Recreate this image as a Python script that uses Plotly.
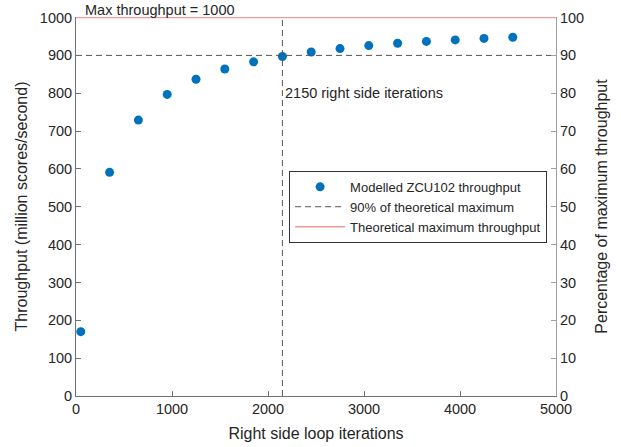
import plotly.graph_objects as go

iterations = [50, 350, 650, 950, 1250, 1550, 1850, 2150, 2450, 2750, 3050, 3350, 3650, 3950, 4250, 4550]
throughput = [170, 591, 729, 797, 837, 864, 883, 897, 909, 918, 926, 932, 937, 941, 945, 948]
max_throughput = 1000
ninety_pct = 900
knee_x = 2150
x_range = [0, 5000]
x_ticks = [0, 1000, 2000, 3000, 4000, 5000]
y_ticks = [0, 100, 200, 300, 400, 500, 600, 700, 800, 900, 1000]
y2_ticks = [0, 10, 20, 30, 40, 50, 60, 70, 80, 90, 100]

FONT = "Liberation Sans, Arial, sans-serif"
TXT = "#262626"
DASH = "6px,4px"

fig = go.Figure()

fig.add_trace(go.Scatter(x=iterations, y=throughput, mode="markers",
                         marker=dict(color="#0072BD", size=9),
                         name="Modelled ZCU102 throughput"))
fig.add_trace(go.Scatter(x=x_range, y=[ninety_pct, ninety_pct], mode="lines",
                         line=dict(color="#555555", width=1, dash=DASH),
                         name="90% of theoretical maximum"))
fig.add_trace(go.Scatter(x=x_range, y=[max_throughput, max_throughput], mode="lines",
                         line=dict(color="#F29A9A", width=1.5),
                         name="Theoretical maximum throughput"))
fig.add_trace(go.Scatter(x=[knee_x, knee_x], y=[0, max_throughput], mode="lines",
                         line=dict(color="#555555", width=1, dash=DASH),
                         showlegend=False))
fig.add_trace(go.Scatter(x=[knee_x], y=[ninety_pct / 10], mode="markers",
                         marker=dict(opacity=0), yaxis="y2", showlegend=False,
                         hoverinfo="skip"))

fig.add_annotation(x=knee_x, y=800, xref="x", yref="y", text=f"{knee_x} right side iterations",
                   showarrow=False, xanchor="left", yanchor="middle", xshift=1,
                   font=dict(family=FONT, size=14.5, color=TXT))
fig.add_annotation(x=70, y=max_throughput, xref="x", yref="y", text=f"Max throughput = {max_throughput}",
                   showarrow=False, xanchor="left", yanchor="bottom", yshift=-2,
                   font=dict(family=FONT, size=14.5, color=TXT))

fig.update_layout(
    width=621, height=447,
    margin=dict(l=76, r=65, t=17, b=51),
    plot_bgcolor="white", paper_bgcolor="white",
    font=dict(family=FONT, size=14.5, color=TXT),
    showlegend=True,
    legend=dict(x=0.444, y=0.499, xanchor="left", yanchor="middle",
                bgcolor="white", bordercolor="#333333", borderwidth=1,
                font=dict(family=FONT, size=13, color=TXT),
                tracegroupgap=0, itemwidth=50),
    xaxis=dict(range=x_range, tickvals=x_ticks, ticks="inside", ticklen=5,
               showline=True, linecolor="#707070", linewidth=1, tickcolor="#707070",
               showgrid=False, zeroline=False, mirror=False, automargin=False,
               title=dict(text="Right side loop iterations", standoff=11,
                          font=dict(family=FONT, size=16, color=TXT)),
               tickfont=dict(family=FONT, size=14.5, color=TXT)),
    yaxis=dict(range=[0, 1001.5], tickvals=y_ticks, ticks="inside", ticklen=5,
               showline=True, linecolor="#707070", linewidth=1, tickcolor="#707070",
               showgrid=False, zeroline=False, automargin=False,
               title=dict(text="Throughput (million scores/second)", standoff=8,
                          font=dict(family=FONT, size=16, color=TXT)),
               tickfont=dict(family=FONT, size=14.5, color=TXT)),
    yaxis2=dict(range=[0, 100.15], tickvals=y2_ticks, ticks="inside", ticklen=5,
                overlaying="y", side="right", anchor="x", automargin=False,
                showline=True, linecolor="#A0A0A0", linewidth=1, tickcolor="#A0A0A0",
                showgrid=False, zeroline=False,
                title=dict(text="Percentage of maximum throughput", standoff=12,
                           font=dict(family=FONT, size=16, color=TXT)),
                tickfont=dict(family=FONT, size=14.5, color=TXT)),
)

fig.write_html("out.html", config={"displayModeBar": False},
               post_script="document.body.style.margin='0';")
